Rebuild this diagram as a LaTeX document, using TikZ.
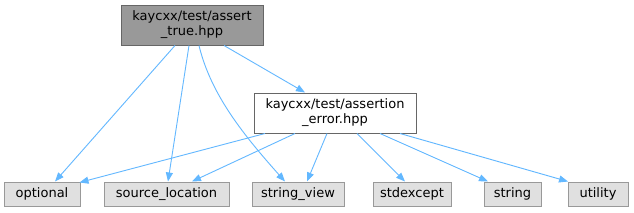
\documentclass[tikz,border=0pt]{standalone}
\usepackage{fontspec}
\setmainfont{DejaVu Sans}
\usetikzlibrary{arrows.meta}
\definecolor{edgeblue}{HTML}{63B8FF}
\definecolor{rootfill}{HTML}{999999}
\definecolor{darkborder}{HTML}{666666}
\definecolor{leaffill}{HTML}{E0E0E0}
\definecolor{leafborder}{HTML}{999999}
\begin{document}
\begin{tikzpicture}[x=1pt,y=-1pt,
  every node/.style={font=\fontsize{13}{15}\selectfont, inner sep=0pt, align=center, line width=1pt},
  rootbox/.style={draw=darkborder, fill=rootfill, minimum width=142pt, minimum height=40pt},
  midbox/.style={draw=darkborder, fill=white, minimum width=162pt, minimum height=40pt},
  leafbox/.style={draw=leafborder, fill=leaffill, minimum height=24pt},
  edge/.style={draw=edgeblue, line width=0.9pt, -{Triangle[length=9pt,width=7pt]}}]
\useasboundingbox[fill=white] (0,0) rectangle (634,212);
\node[rootbox] (root) at (192,25) {kaycxx/test/assert\\\_true.hpp};
\node[midbox] (err) at (335,113) {kaycxx/test/assertion\\\_error.hpp};
\node[leafbox, minimum width=76pt] (opt) at (42,194) {optional};
\node[leafbox, minimum width=125pt] (src) at (166.5,194) {source\_location};
\node[leafbox, minimum width=92pt] (sv) at (298,194) {string\_view};
\node[leafbox, minimum width=78pt] (exc) at (412,194) {stdexcept};
\node[leafbox, minimum width=57pt] (str) at (512.5,194) {string};
\node[leafbox, minimum width=60pt] (util) at (598,194) {utility};
% edges from root
\draw[edge] ([xshift=-17pt]root.south) -- ([xshift=13pt]opt.north);
\draw[edge] ([xshift=-3pt]root.south) -- ([xshift=1.5pt]src.north);
\draw[edge] ([xshift=7pt]root.south) .. controls +(12,50) and +(-40,-45) .. ([xshift=-13pt]sv.north);
\draw[edge] ([xshift=32pt]root.south) -- ([xshift=-30pt]err.north);
% edges from assertion_error
\draw[edge] ([xshift=-70pt]err.south) -- ([xshift=-1pt,yshift=-1pt]opt.north east);
\draw[edge] ([xshift=-40pt]err.south) -- ([xshift=25.5pt]src.north);
\draw[edge] ([xshift=-8pt]err.south) -- ([xshift=9pt]sv.north);
\draw[edge] ([xshift=22pt]err.south) -- ([xshift=-7pt]exc.north);
\draw[edge] ([xshift=45pt]err.south) -- ([xshift=-24.5pt]str.north);
\draw[edge] ([xshift=65pt]err.south) -- ([xshift=-30pt]util.north);
\end{tikzpicture}
\end{document}
